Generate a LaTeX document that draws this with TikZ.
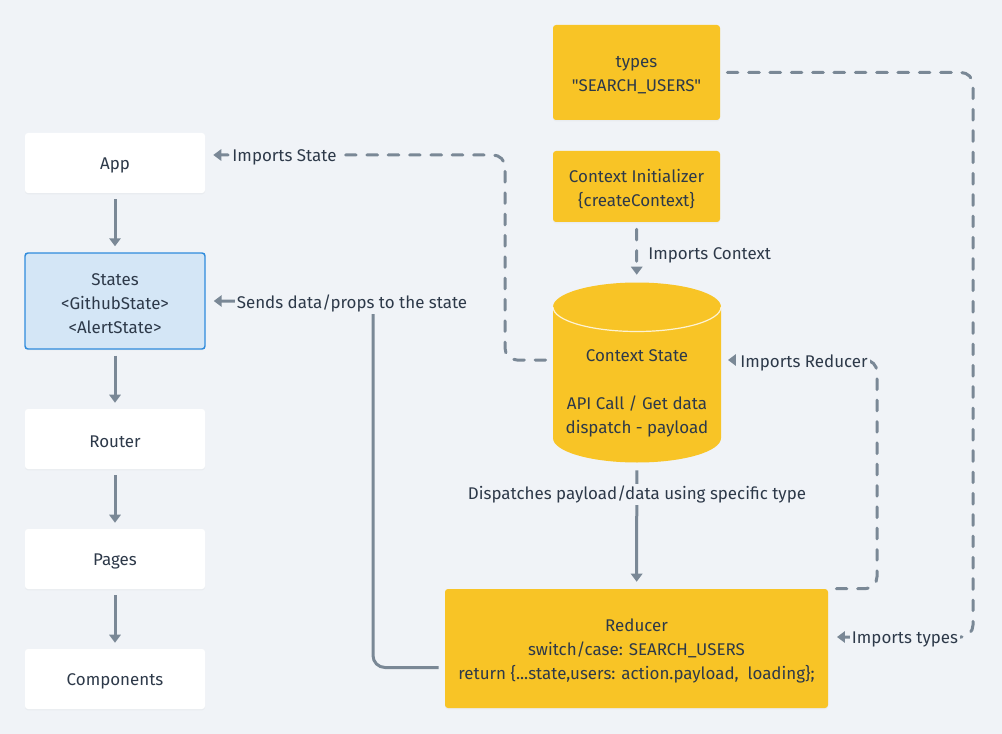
\documentclass[tikz,border=0pt]{standalone}
\usepackage{fontspec}
\newfontfamily\mf{Fira Sans}
\usetikzlibrary{arrows.meta,calc,shadows}
\definecolor{bg}{HTML}{F0F3F7}
\definecolor{yel}{HTML}{F8C426}
\definecolor{ln}{HTML}{7A8896}
\definecolor{txt}{HTML}{2D3949}
\definecolor{stfill}{HTML}{D4E6F6}
\definecolor{stdraw}{HTML}{2F8BDC}
\begin{document}
\begin{tikzpicture}[x=0.75pt,y=-0.75pt,
  every node/.style={font=\mf\fontsize{12.7}{18}\selectfont, text=txt},
  card/.style={rectangle, rounded corners=2.25pt, fill=white,
    minimum width=135pt, minimum height=45pt, inner sep=0pt,
    drop shadow={opacity=0.06, shadow xshift=0pt, shadow yshift=-1pt}},
  ycard/.style={card, fill=yel},
  lbl/.style={align=center, yshift=-1.9pt},
  conn/.style={draw=ln, line width=2.25pt, -{Triangle[length=6pt,width=8.5pt]}},
  dconn/.style={conn, dash pattern=on 8pt off 8pt, line cap=round},
  lab/.style={fill=bg, inner sep=1.5pt},
]
\fill[bg] (0,0) rectangle (1002,734);
\useasboundingbox (0,0) rectangle (1002,734);

% left column
\node[card, label={[lbl]center:{App}}] (app) at (115,163) {};
\node[card, fill=stfill, draw=stdraw, line width=1.1pt, minimum height=72pt,
  label={[lbl]center:{States\\\textless GithubState\textgreater\\\textless AlertState\textgreater}}] (states) at (115,301) {};
\node[card, label={[lbl]center:{Router}}] (router) at (115,439) {};
\node[card, label={[lbl]center:{Pages}}] (pages) at (115,559) {};
\node[card, label={[lbl]center:{Components}}] (comps) at (115,679) {};

% right column
\node[ycard, minimum width=125.25pt, minimum height=71.25pt,
  label={[lbl]center:{types\\"SEARCH\_USERS"}}] (types) at (636.5,72.5) {};
\node[ycard, minimum width=125.25pt, minimum height=53.25pt,
  label={[lbl]center:{Context Initializer\\\{createContext\}}}] (init) at (636.5,186.5) {};
\node[ycard, minimum width=287.25pt, minimum height=89.25pt,
  label={[lbl]center:{Reducer\\switch/case: SEARCH\_USERS\\return \{...state,users: action.payload,\ \ loading\};}}] (reducer) at (636.5,648.5) {};

% cylinder
\fill[yel] (553,307) -- (553,438)
  .. controls (553,451.5) and (590.6,462.5) .. (637,462.5)
  .. controls (683.4,462.5) and (721,451.5) .. (721,438)
  -- (721,307)
  .. controls (721,293.5) and (683.4,282.5) .. (637,282.5)
  .. controls (590.6,282.5) and (553,293.5) .. (553,307) -- cycle;
\draw[white, opacity=0.8, line width=0.9pt] (553,307)
  .. controls (553,320.5) and (590.6,331.5) .. (637,331.5)
  .. controls (683.4,331.5) and (721,320.5) .. (721,307);
\node[minimum width=126pt, minimum height=135pt, inner sep=0pt] (cyl) at (637,373) {};
\node[align=center] (cyltext) at (637,393.5)
  {Context State\\[18pt]API Call / Get data\\dispatch - payload};

% waypoints
\coordinate (w1) at (373,301);
\coordinate (w2) at (505,155);
\coordinate (w3) at (877,360);
\coordinate (w4) at (973,637);

% solid connectors
\draw[conn, shorten <=4.5pt, shorten >=4.5pt] (app) -- (states);
\draw[conn, shorten <=4.5pt, shorten >=4.5pt] (states) -- (router);
\draw[conn, shorten <=4.5pt, shorten >=4.5pt] (router) -- (pages);
\draw[conn, shorten <=4.5pt, shorten >=4.5pt] (pages) -- (comps);
\draw[conn, shorten <=5.25pt, shorten >=5.25pt] (cyl) -- (reducer);
\draw[conn, rounded corners=9pt, shorten >=6pt]
  ($(reducer.west)+(-6,19)$) -| (w1) -- (states.east);

% dashed connectors
\draw[dconn, shorten <=5.25pt, shorten >=6pt] (init) -- (cyl);
\draw[dconn, rounded corners=9pt, shorten >=6pt]
  ($(cyl.west)+(-7,-13)$) -| (w2) -- ($(app.east)+(0,-8)$);
\draw[dconn, rounded corners=9pt, shorten >=5pt]
  ($(reducer.north east)+(8,0)$) -| (w3) -- ($(cyl.east)+(0,-13)$);
\draw[dconn, rounded corners=9pt, shorten >=6.5pt]
  ($(types.east)+(7,0)$) -| (w4) -- ($(reducer.east)+(0,-11.5)$);

% labels
\node[lab] (lsend) at (352,303) {Sends data/props to the state};
\node[lab] (lstate) at (284.5,157.5) {Imports State};
\node[lab] (lred) at (804,362.5) {Imports Reducer};
\node[lab] (ltypes) at (905,639.5) {Imports types};
\node[lab] (ldisp) at (637,494.5) {Dispatches payload/data using specific type};
\node[anchor=west, inner sep=0pt] (lctx) at (648,255.5) {Imports Context};
\end{tikzpicture}
\end{document}
